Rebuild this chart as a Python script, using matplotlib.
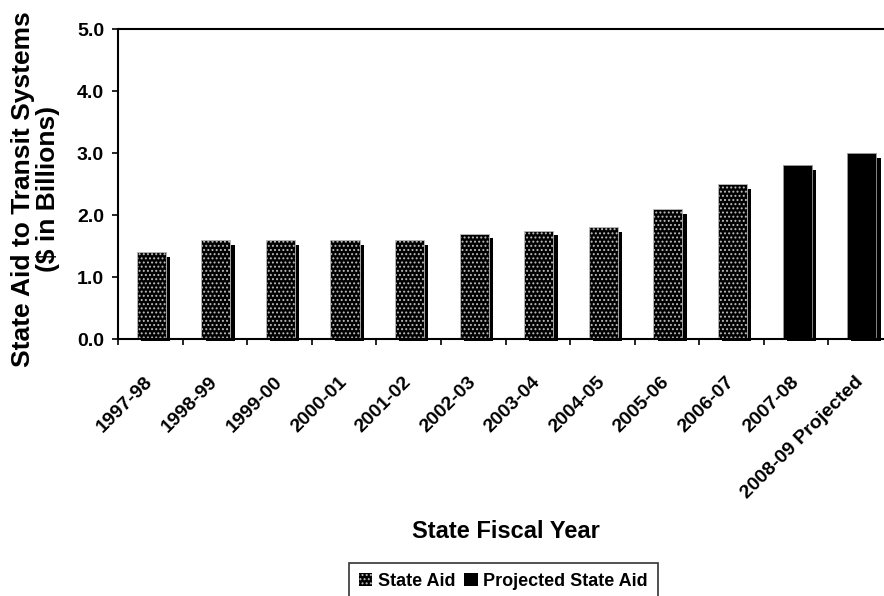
import matplotlib
matplotlib.use('Agg')
import matplotlib.pyplot as plt
from matplotlib.patches import Patch
from matplotlib.ticker import FixedLocator, NullFormatter
import numpy as np

# --- DATA ($ billions) ---
fiscal_years = ['1997-98', '1998-99', '1999-00', '2000-01', '2001-02', '2002-03',
                '2003-04', '2004-05', '2005-06', '2006-07', '2007-08', '2008-09 Projected']
state_aid = [1.4, 1.6, 1.6, 1.6, 1.6, 1.7, 1.75, 1.8, 2.1, 2.5]
projected_aid = [2.8, 3.0]

plt.rcParams['font.family'] = ['Liberation Sans', 'DejaVu Sans']
plt.rcParams['font.weight'] = 'bold'
plt.rcParams['axes.labelweight'] = 'bold'
plt.rcParams['hatch.linewidth'] = 0.9

fig = plt.figure(figsize=(8.84, 5.96), dpi=100)
# axes run past the right edge of the figure, as in the original
ax = fig.add_axes([118 / 884, 257 / 596, 775 / 884, 310 / 596])

n_actual = len(state_aid)
x_actual = np.arange(n_actual)
x_proj = np.arange(n_actual, n_actual + len(projected_aid))

bar_w = 0.45
shift = 0.015
dx, dy = 0.067, 0.076   # shadow offset (right / down)

# --- shadows ---
for xs, vals in [(x_actual, state_aid), (x_proj, projected_aid)]:
    vals = np.array(vals)
    ax.bar(xs + shift + dx, vals - dy + 0.035, width=bar_w, bottom=-0.035,
           color='black', linewidth=0, zorder=1, clip_on=False)

# --- front faces ---
ax.bar(x_actual + shift, state_aid, width=bar_w, color='black',
       edgecolor='#bdbdbd', linewidth=0.6, hatch='....', zorder=2)
ax.bar(x_proj + shift, projected_aid, width=bar_w, color='black',
       edgecolor='#9a9a9a', linewidth=0.6, zorder=2)

# --- axes styling ---
ax.set_xlim(-0.5, len(fiscal_years) - 0.5)
ax.set_ylim(0, 5)
ax.set_yticks(np.arange(0, 5.01, 1.0))
ax.set_yticklabels([f'{v:.1f}' for v in np.arange(0, 5.01, 1.0)], fontsize=14)

ax.set_xticks(np.arange(len(fiscal_years)))
ax.set_xticklabels(fiscal_years, rotation=45, ha='right', va='center',
                   rotation_mode='anchor', fontsize=14)
ax.xaxis.set_minor_locator(FixedLocator(np.arange(-0.5, len(fiscal_years), 1.0)))
ax.xaxis.set_minor_formatter(NullFormatter())
ax.tick_params(axis='x', which='major', length=0, pad=29)
ax.tick_params(axis='x', which='minor', length=4.5, width=1.2, direction='out')
ax.tick_params(axis='y', length=4, width=1.2, direction='out', pad=6)

for side in ['left', 'top', 'bottom']:
    ax.spines[side].set_linewidth(1.5)
ax.spines['right'].set_visible(False)

ax.set_ylabel('State Aid to Transit Systems\n($ in Billions)', fontsize=19,
              va='center', linespacing=1.05)
ax.yaxis.set_label_coords(-0.107, 0.485)
ax.set_xlabel('State Fiscal Year', fontsize=17, va='center')
ax.xaxis.set_label_coords(0.5, -0.62)

handles = [Patch(facecolor='black', edgecolor='#bdbdbd', hatch='....', linewidth=0),
           Patch(facecolor='black', edgecolor='black', linewidth=0)]
leg = fig.legend(handles, ['State Aid', 'Projected State Aid'], ncol=2,
                 loc='upper left', bbox_to_anchor=(349 / 884, 1 - 563 / 596),
                 fontsize=13, frameon=True, fancybox=False, handlelength=0.75,
                 handleheight=0.75, handletextpad=0.3, columnspacing=0.5,
                 borderpad=0.55, borderaxespad=0)
leg.get_frame().set_edgecolor('black')
leg.get_frame().set_linewidth(1.2)

fig.savefig('out.png', dpi=100)
